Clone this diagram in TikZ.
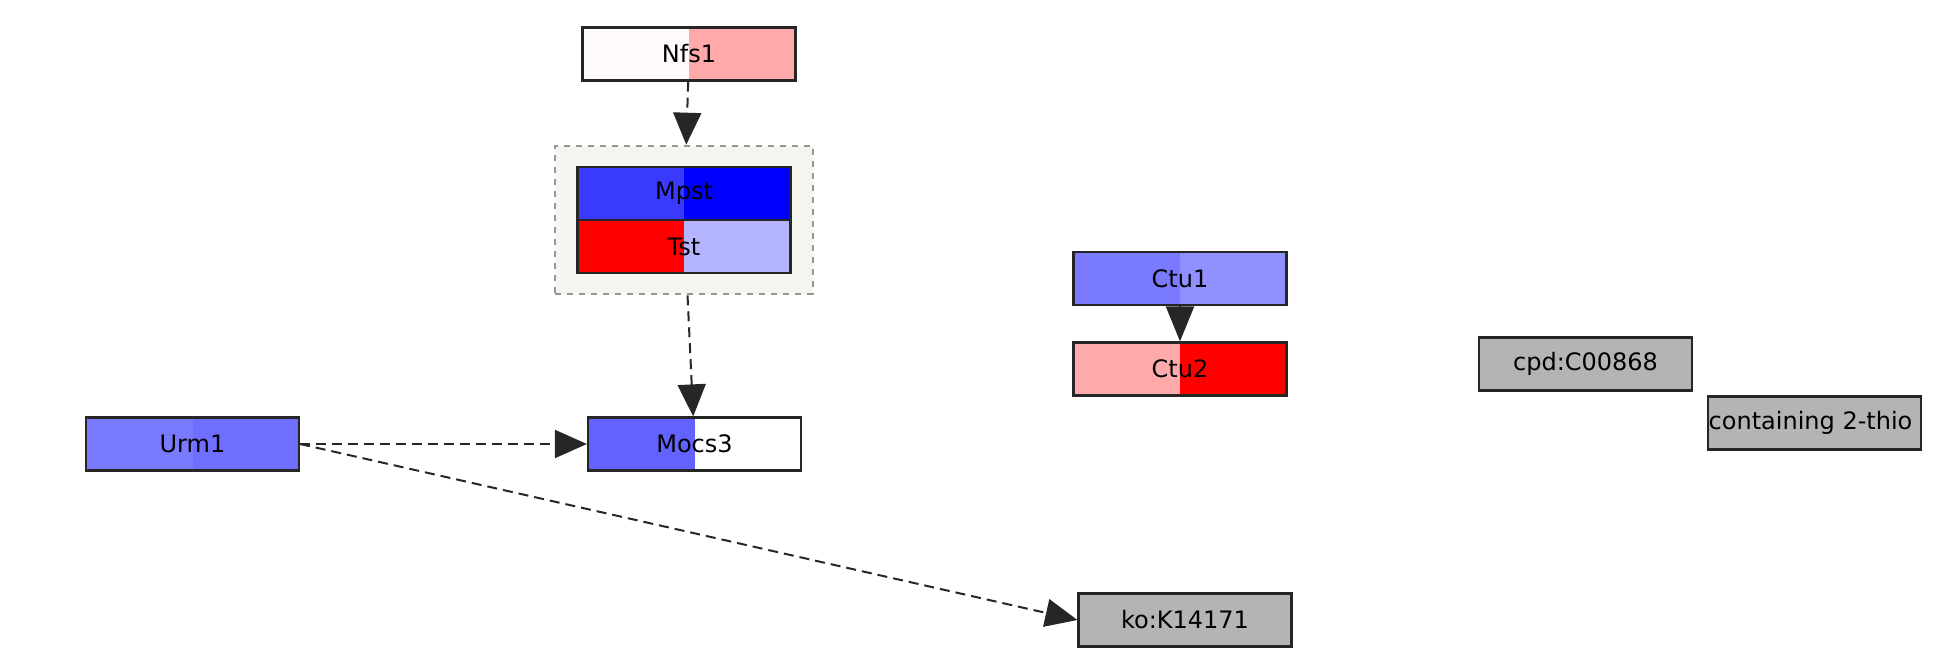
\documentclass[tikz,border=0pt]{standalone}
\usepackage{fontspec}
\setmainfont{DejaVu Sans}
\usetikzlibrary{arrows.meta,fit,backgrounds}

\definecolor{nfsL}{RGB}{255,250,250}
\definecolor{nfsR}{RGB}{255,170,170}
\definecolor{mpstL}{RGB}{58,58,255}
\definecolor{mpstR}{RGB}{0,0,255}
\definecolor{tstR}{RGB}{180,180,255}
\definecolor{mocsL}{RGB}{98,98,255}
\definecolor{urmL}{RGB}{122,122,255}
\definecolor{urmR}{RGB}{110,110,255}
\definecolor{ctuL}{RGB}{122,122,255}
\definecolor{ctuR}{RGB}{144,144,255}
\definecolor{kgray}{RGB}{180,180,180}
\definecolor{grpfill}{RGB}{245,245,240}
\definecolor{grpline}{RGB}{150,150,150}

\tikzset{
  gene/.style 2 args={draw=black!85, line width=1.1pt, minimum width=106.5pt, minimum height=26.5pt,
    inner sep=0pt, fill=#2, font=\fontsize{12}{14}\selectfont,
    path picture={\fill[#1] (path picture bounding box.south west) rectangle (path picture bounding box.north);}},
  other/.style={draw=black!85, line width=1.1pt, minimum width=106.5pt, minimum height=26.5pt,
    inner sep=0pt, fill=kgray, font=\fontsize{12}{14}\selectfont},
  grp/.style={draw=grpline, dashed, line width=1pt, fill=grpfill, inner xsep=10.5pt, inner ysep=10pt},
  rel/.style={-{Triangle[length=16pt,width=14pt]}, line width=1pt, black!85},
  inh/.style={rel, dash pattern=on 5pt off 3pt}
}

\begin{document}
\begin{tikzpicture}[x=0.5pt,y=-0.5pt]
\useasboundingbox (0,0) rectangle (1949,663);

\node[gene={nfsL}{nfsR}] (nfs) at (689,54) {Nfs1};
\node[gene={mpstL}{mpstR}, minimum height=26.7pt] (mpst) at (684,193.5) {Mpst};
\node[gene={red}{tstR}, minimum height=26.7pt] (tst) at (684,246.5) {Tst};
\begin{scope}[on background layer]
\node[grp, fit=(mpst)(tst)] (grp) {};
\end{scope}
\node[gene={mocsL}{white}] (mocs) at (694.5,444) {Mocs3};
\node[gene={urmL}{urmR}] (urm) at (192.5,444) {Urm1};
\node[gene={ctuL}{ctuR}] (ctu1) at (1180,278.5) {Ctu1};
\node[gene={nfsR}{red}] (ctu2) at (1180,369) {Ctu2};
\node[other] (cpd) at (1585.5,364) {cpd:C00868};
\node[other, path picture={\node[font=\fontsize{12}{14}\selectfont] at ([xshift=-2pt]path picture bounding box.center) {containing 2-thio};}] (thio) at (1814.5,423) {};
\node[other] (ko) at (1185,620) {ko:K14171};

\draw[inh] (nfs) -- (grp);
\draw[inh] (grp) -- (mocs);
\draw[inh] (urm) -- (mocs);
\draw[inh] (urm.east) -- (ko.west);
\draw[rel, -{Triangle[length=17.5pt,width=14pt]}] (ctu1) -- (ctu2);
\end{tikzpicture}
\end{document}
